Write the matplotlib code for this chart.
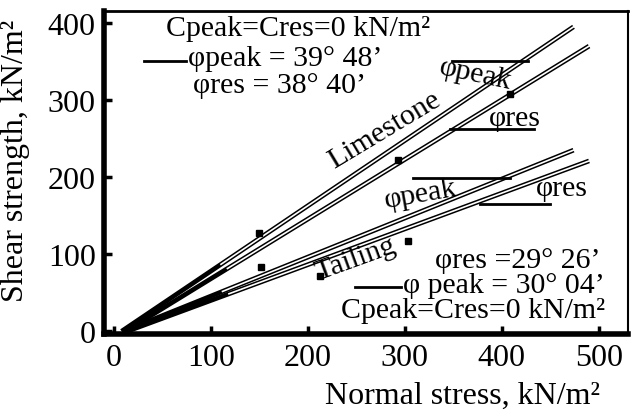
import matplotlib.pyplot as plt

plt.rcParams['font.family'] = ['Liberation Serif', 'DejaVu Serif']

# failure envelopes (normal stress, shear strength)
lime_peak_x = [8, 474]
lime_peak_y = [0, 395]
lime_res_x = [12, 490]
lime_res_y = [0, 370]
tail_peak_x = [10, 474]
tail_peak_y = [0, 235]
tail_res_x = [14, 490]
tail_res_y = [0, 221]

# test points marked on the lines
pts_x = [150, 293, 409, 152, 303, 213]
pts_y = [128, 222, 308, 84, 117, 72]

xticks = [0, 100, 200, 300, 400, 500]
yticks = [0, 100, 200, 300, 400]

fig = plt.figure(figsize=(6.31, 4.14), dpi=100)
ax = fig.add_axes([0.165, 0.19, 0.83, 0.78])

for xs, ys in [(lime_peak_x, lime_peak_y), (lime_res_x, lime_res_y),
               (tail_peak_x, tail_peak_y), (tail_res_x, tail_res_y)]:
    ax.plot(xs, ys, color='black', lw=3.4, solid_capstyle='butt')
    ax.plot([xs[0] + 0.22 * (xs[1] - xs[0]), xs[1]],
            [ys[0] + 0.22 * (ys[1] - ys[0]), ys[1]],
            color='white', lw=1.2)
ax.plot(pts_x, pts_y, 's', color='black', ms=4)

fs = 23
afs = 21.5
# limestone annotations
ax.text(190, 393, "Cpeak=Cres=0 kN/m²", fontsize=afs, ha='center', va='center')
ax.plot([31, 74], [351, 351], color='black', lw=2)
ax.text(76, 354, "φpeak = 39° 48’", fontsize=afs, ha='left', va='center')
ax.text(82, 319, "φres = 38° 40’", fontsize=afs, ha='left', va='center')
ax.text(279, 262, "Limestone", fontsize=afs, rotation=31, ha='center', va='center')
ax.plot([349, 427], [351, 351], color='black', lw=2)
ax.text(373, 334, "φpeak", fontsize=afs, rotation=-12, ha='center', va='center')
ax.plot([347, 433], [262, 262], color='black', lw=2)
ax.text(414, 277, "φres", fontsize=afs, ha='center', va='center')

# tailing annotations
ax.plot([308, 409], [199, 199], color='black', lw=2)
ax.text(316, 178, "φpeak", fontsize=afs, rotation=10, ha='center', va='center')
ax.plot([378, 450], [165, 165], color='black', lw=2)
ax.text(462, 186, "φres", fontsize=afs, ha='center', va='center')
ax.text(249, 94, "Tailing", fontsize=afs, rotation=20, ha='center', va='center')
ax.text(417, 93, "φres =29° 26’", fontsize=afs, ha='center', va='center')
ax.plot([249, 296], [58, 58], color='black', lw=2)
ax.text(298, 60, "φ peak = 30° 04’", fontsize=afs, ha='left', va='center')
ax.text(370, 27, "Cpeak=Cres=0 kN/m²", fontsize=afs, ha='center', va='center')

ax.set_xlim(-10, 530)
ax.set_ylim(-4, 415)
ax.set_xticks(xticks)
ax.set_yticks(yticks)
ax.tick_params(direction='in', length=6, width=2.5, labelsize=fs, pad=6)
ax.spines['left'].set_linewidth(4)
ax.spines['bottom'].set_linewidth(4)
ax.spines['top'].set_linewidth(2)
ax.spines['right'].set_linewidth(1.5)
ax.set_xlabel("Normal stress, kN/m²", fontsize=fs)
ax.set_ylabel("Shear strength, kN/m²", fontsize=fs)
ax.xaxis.set_label_coords(0.685, -0.145)
ax.yaxis.set_label_coords(-0.141, 0.54)

fig.savefig('out.png', dpi=100)
